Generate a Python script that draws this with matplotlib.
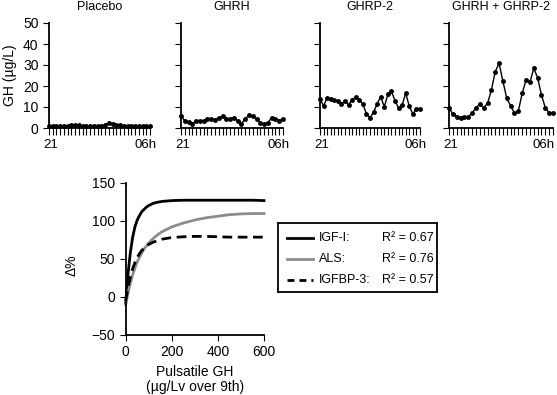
import matplotlib
matplotlib.use("Agg")
import matplotlib.pyplot as plt
import matplotlib.transforms as mtransforms
import numpy as np

plt.rcParams['font.family'] = ['Liberation Sans', 'DejaVu Sans']

# ---- data: top panels (GH, µg/L, sampled 21h -> 06h) ----
panel_titles = ["Placebo", "GHRH", "GHRP-2", "GHRH + GHRP-2"]
placebo = [1, 1, 1, 1, 1, 1, 1.5, 1.5, 1.5, 1, 1, 1, 1, 1, 1, 1.5, 2.5, 2, 1.5,
           1.5, 1, 1, 1, 1, 1, 1, 1, 1]
ghrh = [5.5, 3.5, 3, 2, 3.5, 3.5, 3.5, 4.5, 4.5, 4, 5, 5.5, 4.5, 4.5, 5, 3.5, 2,
        4.5, 6, 5.5, 4.5, 2.5, 2, 2.5, 5, 4.5, 3.5, 4.5]
ghrp2 = [14, 10.5, 14.5, 14, 13.3, 12.7, 11.4, 13, 11, 13.5, 14.6, 13.5, 11.4,
         6.7, 4.8, 7.6, 11.4, 15, 10, 16, 17.5, 13, 9.5, 10.8, 16.7, 10.3, 6.7,
         9.2, 9.2]
combo = [9.7, 6.5, 5.4, 4.9, 5.4, 5.4, 7, 9.7, 11.3, 9.7, 11.7, 18, 26.8, 30.8,
         22.2, 14.1, 10.6, 7, 8.1, 16.5, 22.9, 21.7, 28.4, 24, 15.7, 9.7, 7, 7]
series_top = [placebo, ghrh, ghrp2, combo]
x_tick_labels = ["21", "06h"]
y_ticks_top = [0, 10, 20, 30, 40, 50]

# ---- data: bottom panel (Δ% vs pulsatile GH) ----
gh_x = [0, 10, 20, 30, 40, 50, 60, 70, 80, 90, 100, 120, 140, 160, 180, 200,
        250, 300, 350, 400, 450, 500, 550, 600]
igf1 = [-8, 30, 58, 78, 92, 101, 107, 112, 115, 118, 120, 123, 124.5, 125.5,
        126, 126.5, 127, 127, 127, 127, 127, 127, 127, 126.5]
als = [-10, 5, 18, 29, 38, 46, 52, 58, 63, 67, 71, 77, 82, 86, 89, 92, 97, 101,
       104, 106, 108, 109, 109.5, 109.5]
igfbp3 = [-5, 12, 26, 37, 45, 52, 57, 61, 64, 67, 69, 72, 74, 76, 77, 78, 79,
          79.5, 79.5, 79, 78.5, 78.5, 78.5, 78.5]
legend_names = ["IGF-I:", "ALS:", "IGFBP-3:"]
legend_r2 = ["R\u00b2 = 0.67", "R\u00b2 = 0.76", "R\u00b2 = 0.57"]

W, H = 557, 395
fig = plt.figure(figsize=(W / 100, H / 100), dpi=100)


def px_axes(l, r, t, b):
    return fig.add_axes([l / W, 1 - b / H, (r - l) / W, (b - t) / H])


def shift(lbl, dx):
    lbl.set_transform(lbl.get_transform() +
                      mtransforms.ScaledTranslation(dx / 100, 0,
                                                    fig.dpi_scale_trans))


panel_px = [(49, 150), (181, 283), (320, 420), (449, 553)]
last_shift = [-4, -4, -4, -9]
for i, (title, vals) in enumerate(zip(panel_titles, series_top)):
    l, r = panel_px[i]
    ax = px_axes(l, r, 23, 128)
    n = len(vals)
    xs = np.arange(n)
    ax.plot(xs, vals, color='black', lw=1.0, marker='o', ms=2.5,
            clip_on=False)
    ax.set_xlim(0, n - 1)
    ax.set_ylim(0, 50)
    ax.set_yticks(y_ticks_top)
    ax.set_xticks([0, n - 1])
    ax.set_xticklabels(x_tick_labels)
    ax.set_xticks(xs, minor=True)
    ax.tick_params(axis='x', which='both', direction='out', length=5,
                   width=0.8, labelsize=9.5, pad=3)
    ax.tick_params(axis='y', direction='out', length=4, width=0.8,
                   labelsize=10)
    lbls = ax.get_xticklabels()
    shift(lbls[0], 2)
    shift(lbls[-1], last_shift[i])
    for s in ['top', 'right']:
        ax.spines[s].set_visible(False)
    for s in ['left', 'bottom']:
        ax.spines[s].set_linewidth(1.3)
    if i > 0:
        ax.set_yticklabels([])
    else:
        ax.set_ylabel("GH (\u00b5g/L)", fontsize=10, labelpad=4)
    ax.set_title(title, fontsize=9, pad=9)

# bottom panel
axb = px_axes(125.7, 264, 182.7, 335)
axb.plot(gh_x, igf1, color='black', lw=2.0, clip_on=False)
axb.plot(gh_x, als, color='#8c8c8c', lw=2.0, clip_on=False)
axb.plot(gh_x, igfbp3, color='black', lw=2.0, ls=(0, (3.5, 2)), clip_on=False)
axb.set_xlim(0, 600)
axb.set_ylim(-50, 150)
axb.set_xticks([0, 200, 400, 600])
axb.set_yticks([-50, 0, 50, 100, 150])
axb.tick_params(direction='out', length=4, width=0.8, labelsize=10)
for s in ['top', 'right']:
    axb.spines[s].set_visible(False)
for s in ['left', 'bottom']:
    axb.spines[s].set_linewidth(1.3)
axb.set_ylabel("\u0394%", fontsize=10)
axb.yaxis.set_label_coords(-0.34, 0.46)
axb.set_xlabel("Pulsatile GH\n(\u00b5g/Lv over 9th)", fontsize=10,
               labelpad=4, linespacing=1.1)

# legend box
axl = px_axes(278, 437, 223, 292)
axl.set_xlim(278, 437)
axl.set_ylim(292, 223)
axl.set_xticks([])
axl.set_yticks([])
for s in axl.spines.values():
    s.set_linewidth(1.3)
row_y = [238, 259, 280]
styles = [dict(color='black', lw=2.0),
          dict(color='#8c8c8c', lw=2.0),
          dict(color='black', lw=2.0, ls=(0, (2.5, 1.8)))]
for yy, name, r2, st in zip(row_y, legend_names, legend_r2, styles):
    axl.plot([287, 313], [yy, yy], **st)
    axl.text(319, yy, name, fontsize=9, va='center', ha='left')
    axl.text(382, yy, r2, fontsize=9, va='center', ha='left')

fig.savefig("out.png", dpi=100)
